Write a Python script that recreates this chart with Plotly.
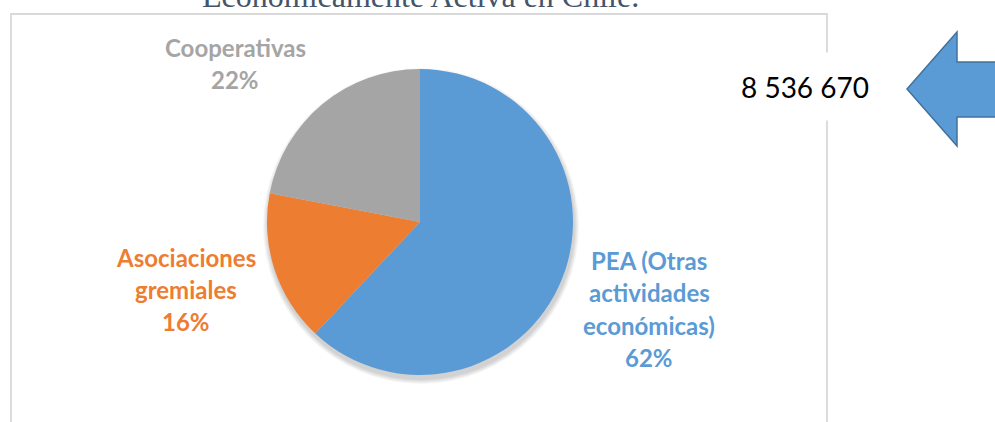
import plotly.graph_objects as go

# ---- data ----
categories = ["PEA (Otras actividades económicas)", "Asociaciones gremiales", "Cooperativas"]
label_lines = [["PEA (Otras", "actividades", "económicas)"], ["Asociaciones", "gremiales"], ["Cooperativas"]]
values = [62, 16, 22]
colors = ["#5B9BD5", "#ED7D31", "#A5A5A5"]
pea_total = "8 536 670"
title_text = "Económicamente Activa en Chile."

W, H = 995, 422


def px(x):
    return x / W


def py(y):
    return 1 - y / H


cx, cy, r = 420, 222, 153

fig = go.Figure()
fig.add_trace(go.Pie(
    labels=categories, values=values, sort=False, direction="clockwise", rotation=0,
    marker=dict(colors=colors, line=dict(width=0)), textinfo="none", showlegend=False,
    hoverinfo="label+percent",
    domain=dict(x=[px(cx - r), px(cx + r)], y=[py(cy + r), py(cy - r)]),
))

shapes = []
# chart area border
shapes.append(dict(type="rect", xref="paper", yref="paper", x0=px(11), x1=px(827), y0=py(440), y1=py(14),
                   line=dict(color="#D9D9D9", width=1.8), layer="below"))
# soft shadow under the pie
for i, a in enumerate([0.035, 0.035, 0.035, 0.035, 0.04]):
    rr = r + 5 - i
    shapes.append(dict(type="circle", xref="paper", yref="paper", x0=px(cx - rr + 1), x1=px(cx + rr + 1),
                       y0=py(cy + 4 + rr), y1=py(cy + 4 - rr), fillcolor=f"rgba(0,0,0,{a})",
                       line=dict(width=0), layer="below"))
# arrow
pts = [(907, 89), (957, 32), (957, 62), (1005, 62), (1005, 117), (957, 117), (957, 146)]
path = "M " + " L ".join(f"{px(x)},{py(y)}" for x, y in pts) + " Z"
shapes.append(dict(type="path", xref="paper", yref="paper", path=path, fillcolor="#5B9BD5",
                   line=dict(color="#41719C", width=1.5)))

annotations = []
annotations.append(dict(text=title_text, x=px(420), y=py(-4), xref="paper", yref="paper",
                        xanchor="center", yanchor="middle", showarrow=False,
                        font=dict(family="Liberation Serif", size=32, color="#44546A")))
annotations.append(dict(text=pea_total, x=px(805), y=py(86), xref="paper", yref="paper",
                        xanchor="center", yanchor="middle", showarrow=False, width=150, height=65,
                        bgcolor="white", font=dict(family="Lato", size=28, color="black")))

label_pos = [(649, [260, 292, 325, 357]), (186, [257, 289, 321]), (235, [48, 79])]
total = sum(values)
for lines, val, col, (lx, ys) in zip(label_lines, values, colors, label_pos):
    texts = lines + [f"{round(val / total * 100)}%"]
    for t, yy in zip(texts, ys):
        annotations.append(dict(text=f"<b>{t}</b>", x=px(lx), y=py(yy), xref="paper", yref="paper",
                                xanchor="center", yanchor="middle", showarrow=False,
                                font=dict(family="Lato", size=24, color=col)))

fig.update_layout(width=W, height=H, margin=dict(l=0, r=0, t=0, b=0),
                  paper_bgcolor="white", plot_bgcolor="white",
                  shapes=shapes, annotations=annotations)
fig.write_html("out.html", config={"displayModeBar": False},
               post_script="document.body.style.margin='0px';")
